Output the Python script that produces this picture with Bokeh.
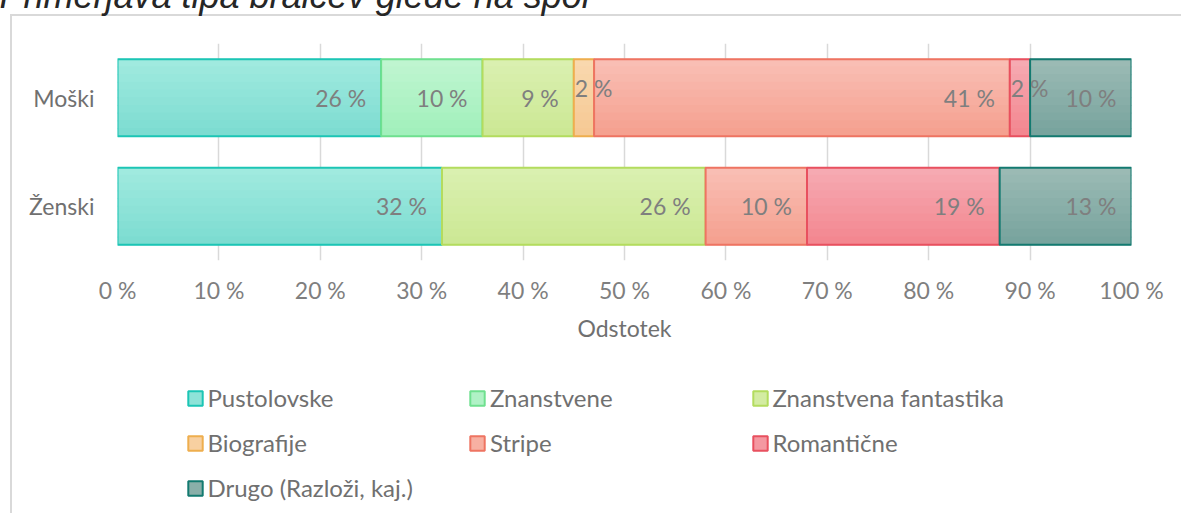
from bokeh.plotting import figure
from bokeh.layouts import column
from bokeh.models import (ColumnDataSource, FactorRange, Range1d, FixedTicker,
                          Legend, LegendItem)
from bokeh.transform import dodge
from bokeh.core.properties import value
from bokeh.embed import file_html
from bokeh.resources import INLINE

# ---------------- data ----------------
title_text = "Primerjava tipa bralcev glede na spol"
categories = ["Moški", "Ženski"]
genres = ["Pustolovske", "Znanstvene", "Znanstvena fantastika", "Biografije",
          "Stripe", "Romantične", "Drugo (Razloži, kaj.)"]
moski = [26, 10, 9, 2, 41, 2, 10]
zenski = [32, 0, 26, 0, 10, 19, 13]
x_ticks = [0, 10, 20, 30, 40, 50, 60, 70, 80, 90, 100]
x_tick_labels = ["0 %", "10 %", "20 %", "30 %", "40 %", "50 %", "60 %",
                 "70 %", "80 %", "90 %", "100 %"]
axis_title = "Odstotek"

# ---------------- style ----------------
FONT = "Lato"
TEXT_DARK = "#707070"
TEXT_LIGHT = "#7f7f7f"
top_colors = ["#a0eadf", "#bff5d0", "#daf0b0", "#f9d8ae", "#f9beb4", "#f6aab2", "#9bbab4"]
bot_colors = ["#7ddcd1", "#a2f0bc", "#cce895", "#f6c994", "#f5a190", "#f38790", "#78a49e"]
line_colors = ["#1cc5b5", "#6fe08f", "#b3dc5e", "#eeae4e", "#ee7462", "#e8505f", "#137a70"]


def mix(c1, c2, t):
    a = [int(c1[i:i + 2], 16) for i in (1, 3, 5)]
    b = [int(c2[i:i + 2], 16) for i in (1, 3, 5)]
    return "#" + "".join(f"{round(x + (y - x) * t):02x}" for x, y in zip(a, b))


BORDER = "#d9d9d9"
SHIFT = 60          # part of the canvas pushed above the page top (clipped title)
W = 1181
SPLIT = 370         # page y where the legend strip starts
H1 = SPLIT + SHIFT
H2 = 513 - SPLIT
BAR_H = 0.71
FRAME_LEFT = 117

p = figure(width=W, height=H1,
           y_range=FactorRange(factors=categories[::-1], range_padding=0),
           x_range=Range1d(0, 100),
           output_backend="svg", toolbar_location=None,
           min_border_left=FRAME_LEFT, min_border_right=50,
           min_border_top=43 + SHIFT, min_border_bottom=SPLIT - 260)
p.outline_line_color = None
p.background_fill_color = "white"
p.border_fill_color = None
p.styles = {
    "background": (f"linear-gradient({BORDER},{BORDER}) 10px {14 + SHIFT}px / 2px 100% no-repeat, "
                   f"linear-gradient({BORDER},{BORDER}) 10px {14 + SHIFT}px / 100% 2px no-repeat, white"),
}

# title (only its lower part shows, as in the reference)
p.title.text = title_text
p.title.text_font = "Liberation Sans"
p.title.text_font_style = "italic"
p.title.text_font_size = "36px"
p.title.text_color = "#262626"
p.title.align = "left"
p.title.vertical_align = "bottom"
p.title.offset = -118
p.title.standoff = 56

p.ygrid.visible = False
p.xgrid.ticker = FixedTicker(ticks=x_ticks)
p.xgrid.grid_line_color = BORDER
p.xgrid.grid_line_width = 1.5

xa = p.xaxis[0]
xa.ticker = FixedTicker(ticks=x_ticks)
xa.major_label_overrides = {t: l for t, l in zip(x_ticks, x_tick_labels)}
xa.axis_line_color = None
xa.major_tick_line_color = None
xa.minor_tick_line_color = None
xa.major_tick_out = 0
xa.major_tick_in = 0
xa.major_label_standoff = 15
xa.major_label_text_font = FONT
xa.major_label_text_font_size = "23px"
xa.major_label_text_color = TEXT_LIGHT
xa.axis_label = axis_title
xa.axis_label_text_font = FONT
xa.axis_label_text_font_size = "23px"
xa.axis_label_text_font_style = "normal"
xa.axis_label_text_color = TEXT_DARK
xa.axis_label_standoff = 7

ya = p.yaxis[0]
ya.axis_line_color = None
ya.major_tick_line_color = None
ya.major_tick_out = 0
ya.major_tick_in = 0
ya.major_label_standoff = 23
ya.major_label_text_font = FONT
ya.major_label_text_font_size = "23px"
ya.major_label_text_color = TEXT_DARK

# ---------------- bars ----------------
series = {"Moški": moski, "Ženski": zenski}
end_labels = dict(x=[], y=[], t=[])
small_labels = dict(x=[], y=[], t=[])
cum = {c: 0 for c in categories}
K = 10
for i, g in enumerate(genres):
    ys, lefts, rights = [], [], []
    for c in categories:
        v = series[c][i]
        if v > 0:
            ys.append(c)
            lefts.append(cum[c])
            rights.append(cum[c] + v)
            lab = small_labels if v < 5 else end_labels
            lab["x"].append(cum[c] if v < 5 else cum[c] + v)
            lab["y"].append(c)
            lab["t"].append(f"{v} %")
        cum[c] += v
    src = ColumnDataSource(dict(y=ys, left=lefts, right=rights))
    # vertical colour gradient drawn as thin slices
    sh = BAR_H / K
    for k in range(K):
        off = BAR_H / 2 - (k + 0.5) * sh
        p.hbar(y=dodge("y", off, range=p.y_range), left="left", right="right",
               height=sh * 1.15, source=src,
               fill_color=mix(top_colors[i], bot_colors[i], k / (K - 1)),
               line_color=None)
    # outline on top
    p.hbar(y="y", left="left", right="right", height=BAR_H, source=src,
           fill_color=None, line_color=line_colors[i], line_width=2)

p.text(x="x", y="y", text="t", source=ColumnDataSource(end_labels),
       text_align="right", text_baseline="middle", x_offset=-15,
       text_font=value(FONT), text_font_size="23px", text_color=TEXT_LIGHT)
p.text(x="x", y="y", text="t", source=ColumnDataSource(small_labels),
       text_align="left", text_baseline="middle", x_offset=1, y_offset=-10,
       text_font=value(FONT), text_font_size="23px", text_color=TEXT_LIGHT)

# ---------------- legend strip (3 equal columns) ----------------
p2 = figure(width=W, height=H2, x_range=Range1d(0, 1), y_range=Range1d(0, 1),
            x_axis_location=None, y_axis_location=None,
            output_backend="svg", toolbar_location=None,
            min_border=0, min_border_left=0, min_border_right=0,
            min_border_top=0, min_border_bottom=0)
p2.grid.visible = False
p2.outline_line_color = None
p2.background_fill_color = None
p2.border_fill_color = None
p2.styles = {"background": f"linear-gradient({BORDER},{BORDER}) 10px 0px / 2px 100% no-repeat, white"}

# invisible proxies that carry each series' swatch style for the legend
swatches = []
for i in range(len(genres)):
    swatches.append(p2.hbar(y=[0.5], left=[0], right=[1], height=0.5, visible=False,
                            fill_color=mix(top_colors[i], bot_colors[i], 0.5),
                            line_color=line_colors[i], line_width=2))

col_x = [185.5, 468, 750.5]          # page x of each legend column
cols = [[0, 3, 6], [1, 4], [2, 5]]
ITEM_H, GAP = 29, 16
first_top = 397.5 - SPLIT - ITEM_H / 2
for cx, idxs in zip(col_x, cols):
    n = len(idxs)
    lh = n * ITEM_H + (n - 1) * GAP
    leg = Legend(items=[LegendItem(label=genres[k], renderers=[swatches[k]]) for k in idxs],
                 location=(cx - FRAME_LEFT, H2 - first_top - lh), orientation="vertical",
                 glyph_width=18, glyph_height=18, label_standoff=4,
                 label_height=ITEM_H, spacing=GAP, padding=0, margin=0,
                 border_line_color=None, background_fill_alpha=0,
                 inactive_fill_alpha=0,
                 label_text_font=FONT, label_text_font_size="24px",
                 label_text_color=TEXT_DARK)
    p2.add_layout(leg, "center")

layout = column(p, p2, spacing=0, styles={"margin-top": f"-{SHIFT}px"})

open("out.html", "w").write(file_html(layout, INLINE))
